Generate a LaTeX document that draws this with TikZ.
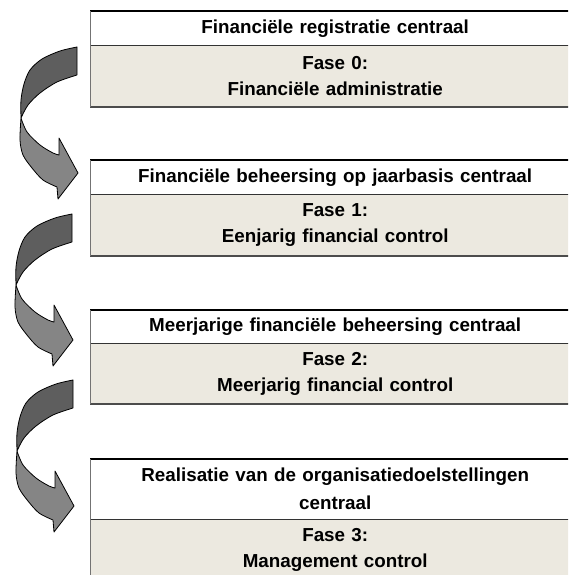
\documentclass[tikz,border=0pt]{standalone}
\usepackage{fontspec}
\setmainfont{Liberation Sans}
\usetikzlibrary{positioning}
\definecolor{fasefill}{HTML}{ECE9E0}
\definecolor{boogdonker}{HTML}{5E5E5E}
\definecolor{booglicht}{HTML}{858585}

\begin{document}
\begin{tikzpicture}[x=1pt,y=-1pt]
         \tikzset{every node/.style={font=\bfseries\fontsize{18.8}{26}\selectfont,align=center,inner sep=0pt}}
         \tikzset{kop/.style={anchor=north west,minimum width=490pt,text width=480pt}}
         \tikzset{fase/.style={kop,fill=fasefill}}
         \tikzset{boog/.pic={
           \draw[fill=booglicht,line width=.8pt,line join=round]
             plot[smooth] coordinates {(-56,71) (-50,85) (-37,98) (-24,106) (-18,108)}
             -- (-18,91) -- (1,126) -- (-19,152) -- (-20,140)
             -- plot[smooth] coordinates {(-20,140) (-34,133) (-45,121) (-54,108) (-57,93) (-56,71)} -- cycle;
           \draw[fill=boogdonker,line width=.8pt,line join=round]
             plot[smooth] coordinates {(0,0) (-17,4) (-35,12) (-47,23) (-53,37) (-56,53) (-56,71)}
             -- plot[smooth] coordinates {(-56,71) (-49,58) (-37,46) (-20,35) (0,28)} -- cycle;
         }}
         \clip (0,0) rectangle (568,575);
         \fill[white] (0,0) rectangle (568,575);
         \node[kop,minimum height=34pt] (k0) at (90,11) {Financiële registratie centraal};
         \node[fase,minimum height=61pt,below=0pt of k0] (f0) {Fase 0:\\Financiële administratie};
         \node[kop,minimum height=34pt] (k1) at (90,160) {Financiële beheersing op jaarbasis centraal};
         \node[fase,minimum height=61pt,below=0pt of k1] (f1) {Fase 1:\\Eenjarig financial control};
         \node[kop,minimum height=33pt] (k2) at (90,310) {Meerjarige financiële beheersing centraal};
         \node[fase,minimum height=60pt,below=0pt of k2] (f2) {Fase 2:\\Meerjarig financial control};
         \node[kop,minimum height=60pt] (k3) at (90,459) {Realisatie van de organisatiedoelstellingen\\[2pt]centraal};
         \node[fase,minimum height=61pt,below=0pt of k3] (f3) {Fase 3:\\Management control};
         \foreach \i in {0,...,3} {
           \draw[black,line width=1.6pt] (k\i.north west) -- (k\i.north east);
           \draw[black!80,line width=1.2pt] (k\i.south west) -- (k\i.south east);
           \draw[black!70,line width=1.6pt] (f\i.south west) -- (f\i.south east);
           \draw[black!55,line width=.8pt] (k\i.north west) -- (f\i.south west);
         }
         \pic at (77,47) {boog};
         \pic at (72,214) {boog};
         \pic at (73,380) {boog};
      \end{tikzpicture}
\end{document}
